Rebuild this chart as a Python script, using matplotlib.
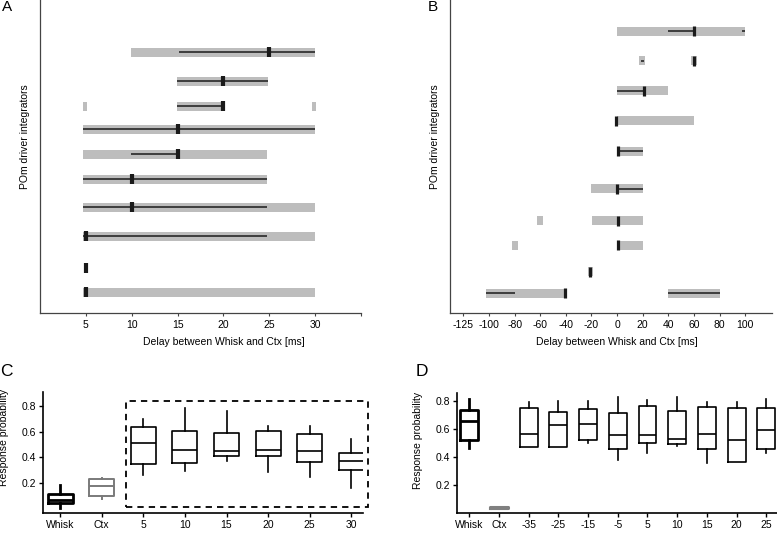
import matplotlib
matplotlib.use("Agg")
import matplotlib.pyplot as plt
from matplotlib.patches import Rectangle

plt.rcParams['font.family'] = ['Liberation Sans', 'DejaVu Sans']
plt.rcParams['font.size'] = 7.5

# ---------------- data ----------------
# panel A: one row per POm driver integrator (top to bottom)
a_rows = [10.44, 9.28, 8.28, 7.36, 6.36, 5.36, 4.24, 3.08, 1.8, 0.84]
a_gray = [[(9.9, 30)], [(14.9, 24.9)], [(4.7, 5.15), (14.9, 20), (29.7, 30.1)],
          [(4.7, 30)], [(4.7, 24.7)], [(4.7, 24.7)], [(4.7, 30)], [(4.7, 30)],
          [], [(4.7, 30)]]
a_line = [[(15.1, 30)], [(14.9, 24.9)], [(14.9, 20)], [(4.7, 30)], [(9.9, 14.9)],
          [(4.7, 24.7)], [(4.7, 24.7)], [(4.7, 24.7)], [], []]
a_best = [25, 20, 20, 15, 15, 10, 10, 5, 5, 5]
a_ticks = [5, 10, 15, 20, 25, 30, 35]
a_ticklabels = ['5', '10', '15', '20', '25', '30', '']

# panel B
b_rows = [11.28, 10.1, 8.9, 7.7, 6.48, 4.97, 3.7, 2.72, 1.65, 0.79]
b_gray = [[(0, 100)], [(17.5, 22), (58, 62.3)], [(0, 40)], [(0, 60)], [(0, 20)],
          [(-20, 20)], [(-62.5, -57.5), (-19.5, 20.5)], [(-82, -77), (0, 20)],
          [(-23, -19)], [(-102, -41), (40, 80)]]
b_line = [[(40, 60), (97.4, 99.6)], [(18.5, 21)], [(0, 21)], [], [(0, 20)],
          [(0, 20)], [], [], [], [(-102, -80), (40, 80)]]
b_best = [[60], [60], [21], [-1], [1], [0], [1], [1], [-21], [-41]]
b_ticks = [-120, -100, -80, -60, -40, -20, 0, 20, 40, 60, 80, 100]
b_ticklabels = ['-125', '-100', '-80', '-60', '-40', '-20', '0', '20', '40',
                '60', '80', '100']

# panel C: response probability boxes
c_labels = ['Whisk', 'Ctx', '5', '10', '15', '20', '25', '30']
c_med = [0.07, 0.179, 0.514, 0.457, 0.452, 0.455, 0.452, 0.37]
c_q1 = [0.046, 0.102, 0.347, 0.36, 0.411, 0.411, 0.362, 0.303]
c_q3 = [0.115, 0.231, 0.633, 0.604, 0.586, 0.604, 0.581, 0.435]
c_lo = [0.007, 0.077, 0.264, 0.295, 0.373, 0.29, 0.251, 0.162]
c_hi = [0.187, 0.239, 0.695, 0.785, 0.759, 0.643, 0.643, 0.543]

# panel D
d_labels = ['Whisk', 'Ctx', '-35', '-25', '-15', '-5', '5', '10', '15', '20', '25']
d_med = [0.66, 0.04, 0.567, 0.627, 0.636, 0.558, 0.556, 0.53, 0.567, 0.522, 0.596]
d_q1 = [0.522, 0.036, 0.475, 0.475, 0.522, 0.461, 0.499, 0.492, 0.458, 0.368, 0.461]
d_q3 = [0.736, 0.044, 0.753, 0.724, 0.743, 0.712, 0.762, 0.731, 0.755, 0.748, 0.748]
d_lo = [0.463, 0.036, 0.475, 0.475, 0.503, 0.38, 0.432, 0.48, 0.357, 0.368, 0.432]
d_hi = [0.814, 0.044, 0.795, 0.802, 0.798, 0.826, 0.805, 0.826, 0.795, 0.795, 0.814]

GRAY = '#bdbdbd'
DARK = '#1a1a1a'
W, H = 777, 533


def px_axes(fig, left, right, top, bottom):
    # axes placed from pixel edges
    return fig.add_axes([left / W, 1 - bottom / H, (right - left) / W, (bottom - top) / H])


def delay_panel(ax, rows, gray, lines, best, mew):
    for y, segs in zip(rows, gray):
        for s, e in segs:
            ax.barh(y, e - s, left=s, height=0.36, color=GRAY, linewidth=0)
    for y, segs in zip(rows, lines):
        for s, e in segs:
            ax.plot([s, e], [y, y], color=DARK, lw=1.1, solid_capstyle='butt')
    for y, b in zip(rows, best):
        b = b if isinstance(b, list) else [b]
        ax.plot(b, [y] * len(b), ls='none', marker='|', ms=7, mew=mew, color=DARK)
    ax.set_ylim(0, 12.52)
    ax.set_yticks([])
    for s in ['top', 'right']:
        ax.spines[s].set_visible(False)
    for s in ['left', 'bottom']:
        ax.spines[s].set_color('#444444')
        ax.spines[s].set_linewidth(0.9)
    ax.tick_params(axis='x', length=2.5, width=0.8, color='#444444', pad=2.5)


fig = plt.figure(figsize=(7.77, 5.33), dpi=100)

# ---------- A ----------
axA = px_axes(fig, 40.1, 361, 0, 313)
delay_panel(axA, a_rows, a_gray, a_line, a_best, 3.0)
axA.set_xlim(0, 35)
axA.set_xticks(a_ticks)
axA.set_xticklabels(a_ticklabels)
fig.text(224 / W, 1 - 342 / H, 'Delay between Whisk and Ctx [ms]', ha='center', va='center')
fig.text(25 / W, 1 - 137 / H, 'POm driver integrators', rotation=90, ha='center', va='center')

# ---------- B ----------
axB = px_axes(fig, 450, 772, 0, 313)
delay_panel(axB, b_rows, b_gray, b_line, b_best, 2.3)
axB.set_xlim(-130.5, 121)
axB.set_xticks(b_ticks)
axB.set_xticklabels(b_ticklabels)
fig.text(617 / W, 1 - 342 / H, 'Delay between Whisk and Ctx [ms]', ha='center', va='center')
fig.text(435 / W, 1 - 137 / H, 'POm driver integrators', rotation=90, ha='center', va='center')


def box_panel(ax, labels, med, q1, q3, lo, hi, ctx_color, ctx_lw):
    stats = [dict(med=m, q1=a, q3=b, whislo=l, whishi=h, label=lab)
             for lab, m, a, b, l, h in zip(labels, med, q1, q3, lo, hi)]
    pos = list(range(len(labels)))
    art = ax.bxp(stats, positions=pos, widths=0.6, showcaps=False, showfliers=False,
                 boxprops=dict(color='k', lw=1.2),
                 whiskerprops=dict(color='k', lw=1.2),
                 medianprops=dict(color='k', lw=1.2))
    # Whisk box drawn heavier, Ctx box in gray
    for key, idx in [('boxes', [0]), ('medians', [0]), ('whiskers', [0, 1])]:
        for i in idx:
            art[key][i].set_linewidth(2.0)
    for key, idx in [('boxes', [1]), ('medians', [1]), ('whiskers', [2, 3])]:
        for i in idx:
            art[key][i].set_color(ctx_color)
            art[key][i].set_linewidth(ctx_lw)
    for s in ['top', 'right']:
        ax.spines[s].set_visible(False)
    for s in ['left', 'bottom']:
        ax.spines[s].set_linewidth(1.2)
    ax.set_yticks([0.2, 0.4, 0.6, 0.8])
    ax.set_yticklabels(['0.2', '0.4', '0.6', '0.8'])
    ax.tick_params(length=3, width=1.0, pad=2)
    return pos


# ---------- C ----------
axC = px_axes(fig, 43, 363, 391.7, 512.7)
c_pos = box_panel(axC, c_labels, c_med, c_q1, c_q3, c_lo, c_hi, '#7a7a7a', 1.4)
axC.set_xlim(-0.41, 7.28)
axC.set_ylim(-0.027, 0.908)
axC.add_patch(Rectangle((c_pos[2] - 0.42, 0.015), c_pos[-1] - c_pos[2] + 0.81, 0.821,
                        fill=False, ls=(0, (3.5, 2.8)), lw=1.3, color='k', clip_on=False))
fig.text(4 / W, 1 - 437 / H, 'Response probability', rotation=90, ha='center', va='center')

# ---------- D ----------
axD = px_axes(fig, 456.7, 777, 393.3, 513.3)
box_panel(axD, d_labels, d_med, d_q1, d_q3, d_lo, d_hi, '#808080', 2.2)
axD.set_xlim(-0.42, 10.36)
axD.set_ylim(0, 0.855)
fig.text(418 / W, 1 - 440 / H, 'Response probability', rotation=90, ha='center', va='center')

# panel letters
fig.text(2 / W, 1 - 0 / H, 'A', fontsize=11, va='top')
fig.text(428 / W, 1 - 0 / H, 'B', fontsize=11, va='top')
fig.text(0 / W, 1 - 364 / H, 'C', fontsize=12.5, va='top')
fig.text(416 / W, 1 - 364 / H, 'D', fontsize=12.5, va='top')

fig.savefig('out.png', dpi=100)
